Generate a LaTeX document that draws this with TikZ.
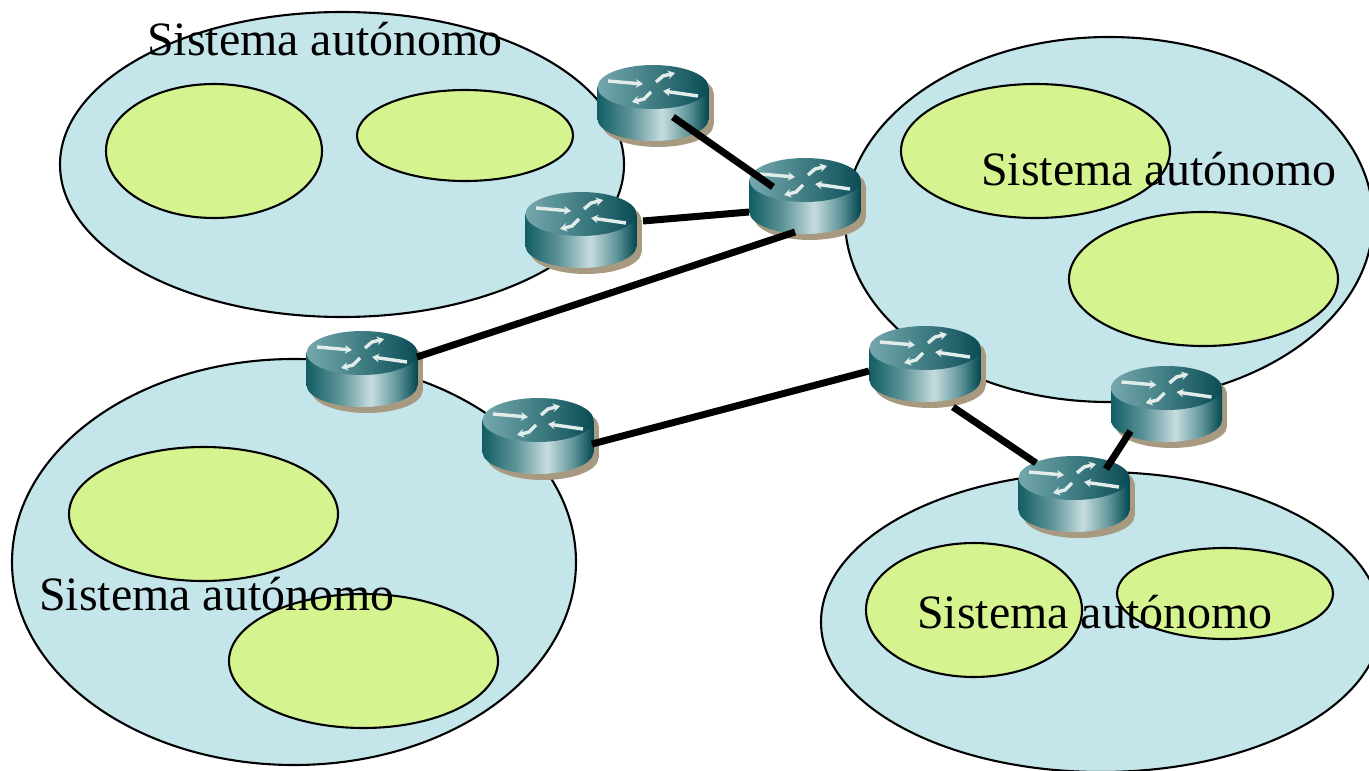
\documentclass[tikz,border=0pt]{standalone}
\usepackage{fontspec}
\setmainfont{Liberation Serif}
\usetikzlibrary{shapes.geometric,arrows.meta,calc}
\definecolor{asblue}{HTML}{C4E5E9}
\definecolor{netgreen}{HTML}{D5F48F}
\definecolor{rshadow}{HTML}{A89A80}
\definecolor{rarrow}{HTML}{E2ECEA}
\definecolor{rb1}{HTML}{135E65}
\definecolor{rb2}{HTML}{5E9499}
\definecolor{rb3}{HTML}{C6DDDF}
\definecolor{rb4}{HTML}{03474F}
\definecolor{rt1}{HTML}{75A8AC}
\definecolor{rt2}{HTML}{4A868C}
\definecolor{rt3}{HTML}{0A4C55}
\pgfdeclarehorizontalshading{rbody}{100bp}{color(0bp)=(rb1);color(25bp)=(rb1);color(40bp)=(rb2);color(54bp)=(rb3);color(66bp)=(rb2);color(75bp)=(rb4);color(100bp)=(rb4)}
\pgfdeclarehorizontalshading{rtop}{100bp}{color(0bp)=(rt1);color(25bp)=(rt1);color(45bp)=(rt2);color(75bp)=(rt3);color(100bp)=(rt3)}
\tikzset{
  asys/.style={draw=black,line width=2.1pt,fill=asblue,ellipse,inner sep=0pt},
  net/.style={draw=black,line width=2.1pt,fill=netgreen,ellipse,inner sep=0pt},
  lbl/.style={font=\fontsize{47.9}{52}\selectfont,inner sep=0pt,anchor=base west,text=black},
  link/.style={draw=black,line width=7pt},
  rarr/.style={draw=rarrow,line width=3.4pt,-{Stealth[length=7pt,width=8.5pt]}},
  rbox/.style={inner sep=0pt,minimum width=111pt,minimum height=76pt}
}
\newcommand{\routerart}[3]{%
  \begin{scope}[shift={(#2,#3)}]
    \fill[rshadow] (-49.5,-10) rectangle (60.5,22);
    \fill[rshadow] (5,22) ellipse[x radius=55.5,y radius=22];
    \fill[rshadow] (5,-10) ellipse[x radius=55.5,y radius=22];
    \shade[shading=rbody] (-55.5,-16) rectangle (55.5,16);
    \shade[shading=rbody] (0,16) ellipse[x radius=55.5,y radius=22];
    \shade[shading=rtop] (0,-16) ellipse[x radius=55.5,y radius=22];
    \draw[rarr] (-45,-22) -- (-10,-19);
    \draw[rarr] (3,-21) -- (10,-27) -- (22,-30);
    \draw[rarr] (45,-7) -- (10,-12);
    \draw[rarr] (-2,-11) -- (-9,-4) -- (-21,-1);
    \node[rbox] (#1) at (0,0) {};
  \end{scope}}
\begin{document}
\begin{tikzpicture}[x=1pt,y=-1pt]
\useasboundingbox (0,0) rectangle (1369,771);
\clip (0,0) rectangle (1369,771);
\fill[white] (0,0) rectangle (1369,771);
\node[asys,minimum width=564pt,minimum height=305pt] (as1) at (342,164.5) {};
\node[asys,minimum width=528pt,minimum height=365pt] (as2) at (1109,219.5) {};
\node[asys,minimum width=564pt,minimum height=406pt] (as3) at (294,562) {};
\node[asys,minimum width=560pt,minimum height=300pt] (as4) at (1101,622) {};
\node[net,minimum width=216pt,minimum height=134pt] (n1) at (214,151) {};
\node[net,minimum width=216pt,minimum height=91pt] (n2) at (465,135.5) {};
\node[net,minimum width=269pt,minimum height=134pt] (n3) at (1035.5,151) {};
\node[net,minimum width=269pt,minimum height=134pt] (n4) at (1203.5,279) {};
\node[net,minimum width=269pt,minimum height=134pt] (n5) at (203.5,514) {};
\node[net,minimum width=269pt,minimum height=134pt] (n6) at (363.5,661) {};
\node[net,minimum width=216pt,minimum height=134pt] (n7) at (974,610) {};
\node[net,minimum width=216pt,minimum height=91pt] (n8) at (1225,593.5) {};
\node[lbl] (t1) at (147,55) {Sistema autónomo};
\node[lbl] (t2) at (981,185) {Sistema autónomo};
\node[lbl] (t3) at (39,610) {Sistema autónomo};
\node[lbl] (t4) at (917,628) {Sistema autónomo};
\routerart{r1}{653}{103}
\routerart{r2}{805}{196}
\routerart{r3}{581}{230}
\routerart{r4}{362}{369}
\routerart{r5}{538}{436}
\routerart{r6}{925}{364}
\routerart{r7}{1166.5}{404}
\routerart{r8}{1074}{494}
\draw[link] ($(r1)+(20,14)$) -- ($(r2)+(-32,-9)$);
\draw[link] ($(r3)+(62,-9)$) -- ($(r2)+(-56,16)$);
\draw[link] ($(r2)+(-10,36)$) -- ($(r4)+(55,-12)$);
\draw[link] ($(r5)+(54,8)$) -- ($(r6)+(-56,7)$);
\draw[link] ($(r6)+(28,43)$) -- ($(r8)+(-38,-31)$);
\draw[link] ($(r8)+(32,-25)$) -- ($(r7)+(-36,27)$);
\end{tikzpicture}
\end{document}
